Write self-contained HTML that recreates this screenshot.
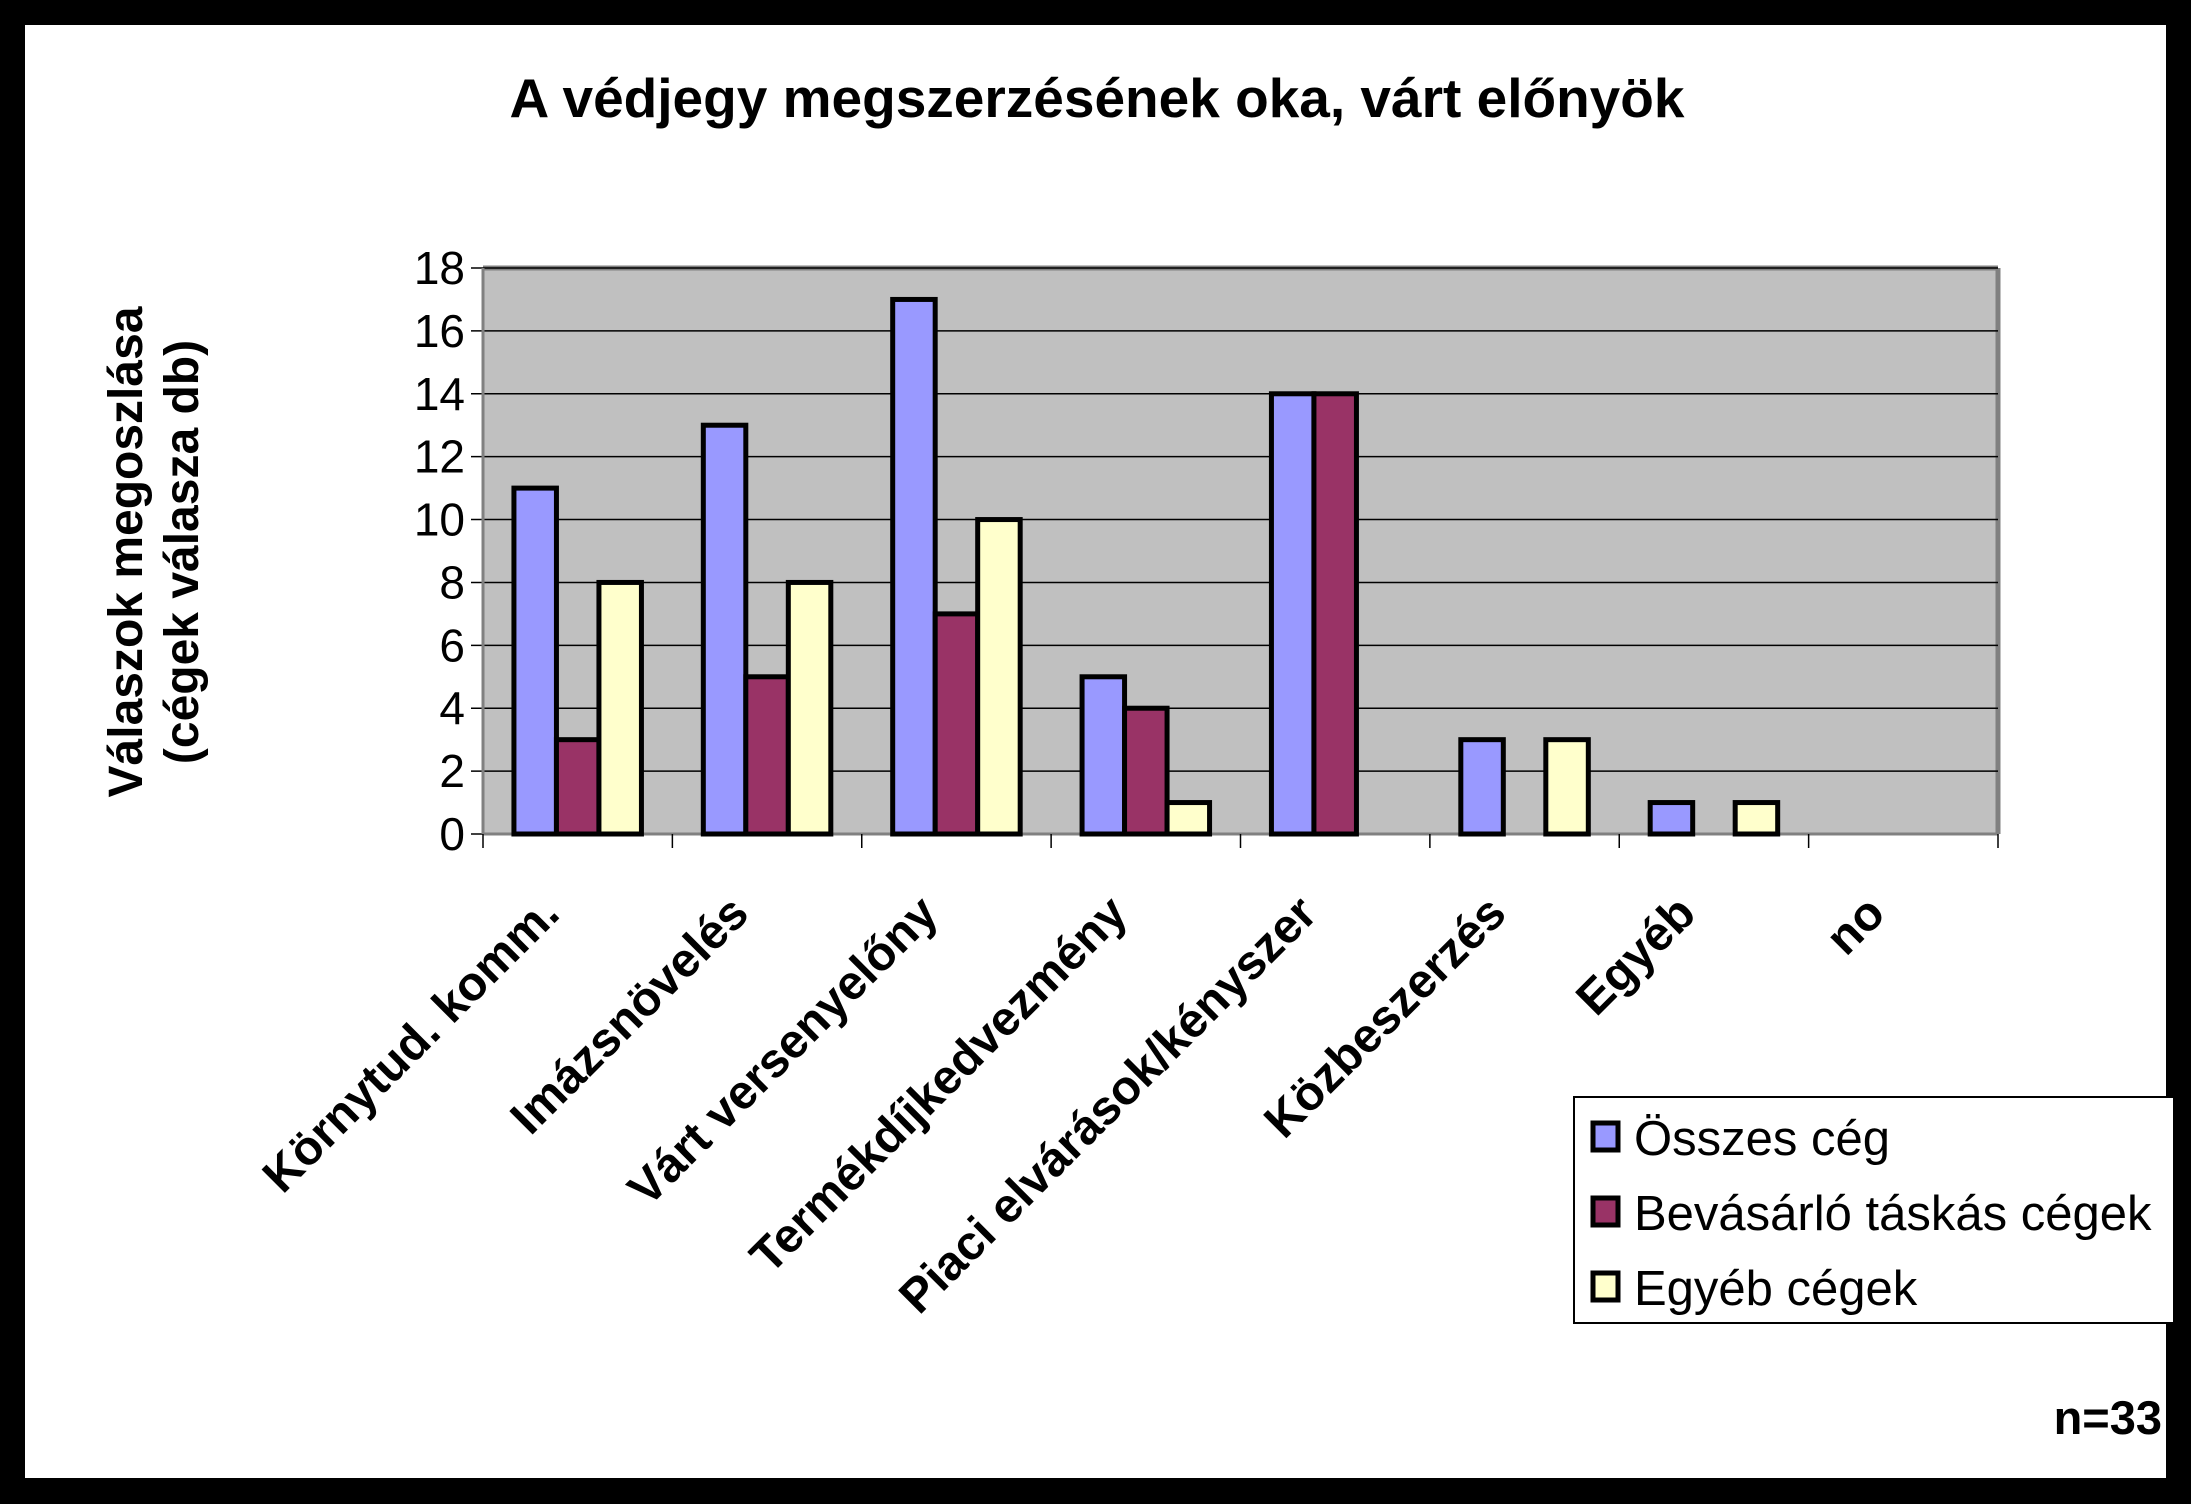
<!DOCTYPE html>
<html><head><meta charset="utf-8"><style>
html,body{margin:0;padding:0;background:#000;}
svg{display:block;font-family:"Liberation Sans",Arial,sans-serif;}
</style></head><body>
<svg id="chart" width="2191" height="1504" viewBox="0 0 2191 1504">
<rect x="0" y="0" width="2191" height="1504" fill="#000"/>
<rect x="25" y="25" width="2141" height="1453" fill="#fff"/>
<text x="1097" y="117" text-anchor="middle" font-size="55" font-weight="bold">A védjegy megszerzésének oka, várt előnyök</text>
<g transform="translate(142,552) rotate(-90)">
<text x="0" y="0" text-anchor="middle" font-size="48" font-weight="bold">Válaszok megoszlása</text>
<text x="0" y="56" text-anchor="middle" font-size="48" font-weight="bold">(cégek válasza db)</text>
</g>
<g id="plot"></g>
<g id="legend">
<rect x="1574" y="1097" width="600" height="226" fill="#fff" stroke="#000" stroke-width="2"/>
</g>
<text x="2162" y="1434" text-anchor="end" font-size="47" font-weight="bold">n=33</text>
</svg>
<script>
const categories = ["Környtud. komm.","Imázsnövelés","Várt versenyelőny","Termékdíjkedvezmény","Piaci elvárások/kényszer","Közbeszerzés","Egyéb","no"];
const seriesNames = ["Összes cég","Bevásárló táskás cégek","Egyéb cégek"];
const osszes = [11,13,17,5,14,3,1,0];
const bevasarlo = [3,5,7,4,14,0,0,0];
const egyeb = [8,8,10,1,0,3,1,0];
const yTicks = [0,2,4,6,8,10,12,14,16,18];

const NS="http://www.w3.org/2000/svg";
const colors=["#9999ff","#993366","#ffffcc"];
const series=[osszes,bevasarlo,egyeb];
const L=483,R=1998,T=268,B=834,yMax=18;
const catW=(R-L)/categories.length;
const y=v=>B-(v/yMax)*(B-T);
const xCat=i=>L+i*catW;
const barW=42.5;
const plot=document.getElementById('plot');
function mk(tag,attrs,parent){const e=document.createElementNS(NS,tag);for(const k in attrs)e.setAttribute(k,attrs[k]);(parent||plot).appendChild(e);return e;}

const bg=mk('rect',{x:L,y:T,width:R-L,height:B-T,fill:'#c0c0c0'});


const topB=mk('line',{x1:L,y1:T,x2:R,y2:T,stroke:'#808080','stroke-width':5});


const rightB=mk('line',{x1:R,y1:T,x2:R,y2:B,stroke:'#808080','stroke-width':5});



yTicks.forEach(t=>{
  const g=mk('line',{x1:L-12,y1:y(t),x2:R,y2:y(t),stroke:'#000','stroke-width':1.5});
  
  
  const tx=mk('text',{x:L-18,y:y(t)+16,'text-anchor':'end','font-size':46});
  tx.textContent=t;
  
  
});
const yAx=mk('line',{x1:L,y1:T,x2:L,y2:B,stroke:'#808080','stroke-width':3});


const xAx=mk('line',{x1:L,y1:B,x2:R,y2:B,stroke:'#808080','stroke-width':3});


for(let i=0;i<=categories.length;i++){
  const tk=mk('line',{x1:xCat(i),y1:B,x2:xCat(i),y2:B+14,stroke:'#000','stroke-width':1.5});
  
  
}
categories.forEach((c,i)=>{
  const start=xCat(i)+(catW-3*barW)/2;
  series.forEach((s,j)=>{
    const v=s[i];
    if(v<=0)return;
    const r=mk('rect',{x:start+j*barW,y:y(v),width:barW,height:B-y(v),fill:colors[j],stroke:'#000','stroke-width':5});
    
    
  });
  const cx=xCat(i)+catW/2-16, cy=B+82;
  const lab=mk('text',{x:cx,y:cy,'text-anchor':'end','font-size':48,'font-weight':'bold',transform:`rotate(-45 ${cx} ${cy})`});
  lab.textContent=c;
  
  
});

const leg=document.getElementById('legend');
seriesNames.forEach((n,j)=>{
  const yy=1139+j*75;
  const sw=mk('rect',{x:1593,y:yy-16,width:25,height:27,fill:colors[j],stroke:'#000','stroke-width':5},leg);
  
  
  const t=mk('text',{x:1634,y:yy+16,'font-size':49},leg);
  t.textContent=n;
  
  
});
</script>
</body></html>
